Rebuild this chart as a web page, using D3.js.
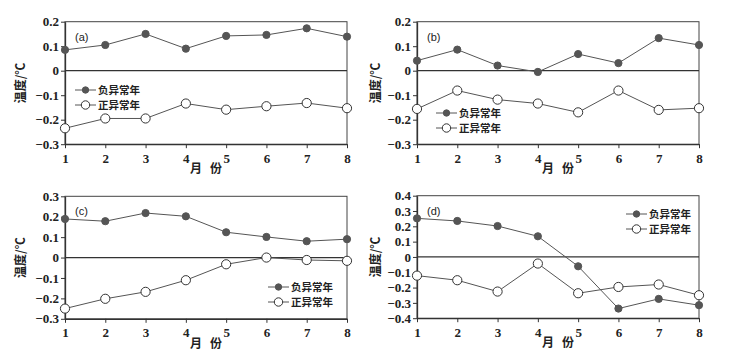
<!DOCTYPE html>
<html>
<head>
<meta charset="utf-8">
<script src="https://cdn.jsdelivr.net/npm/d3@7"></script>
<style>
  body { margin: 0; background: #fff; }
  .cjk { font-family: "Noto Sans CJK SC", sans-serif; font-weight: bold; fill: #222; }
  svg .tick text { font-family: "Liberation Serif", "DejaVu Serif", serif !important; font-weight: bold; font-size: 13px; fill: #222; }
</style>
</head>
<body>
<svg id="chart" width="752" height="358"></svg>
<script>
// months on the x axis
var months = [1, 2, 3, 4, 5, 6, 7, 8];

var seriesNames = ["负异常年", "正异常年"];

// (a)
var negA = [0.085, 0.105, 0.150, 0.090, 0.142, 0.146, 0.173, 0.139];
var posA = [-0.235, -0.195, -0.195, -0.134, -0.159, -0.145, -0.132, -0.153];
// (b)
var negB = [0.041, 0.086, 0.021, -0.005, 0.068, 0.031, 0.133, 0.105];
var posB = [-0.156, -0.081, -0.118, -0.134, -0.170, -0.081, -0.160, -0.153];
// (c)
var negC = [0.189, 0.178, 0.218, 0.202, 0.124, 0.101, 0.080, 0.090];
var posC = [-0.250, -0.202, -0.168, -0.111, -0.033, 0.000, -0.012, -0.016];
// (d)
var negD = [0.252, 0.235, 0.202, 0.135, -0.061, -0.337, -0.274, -0.315];
var posD = [-0.122, -0.152, -0.226, -0.043, -0.237, -0.196, -0.180, -0.250];

var ticksAB = [0.2, 0.1, 0, -0.1, -0.2, -0.3];
var ticksC = [0.3, 0.2, 0.1, 0, -0.1, -0.2, -0.3];
var ticksD = [0.4, 0.3, 0.2, 0.1, 0, -0.1, -0.2, -0.3, -0.4];

var panels = [
  { label: "(a)", neg: negA, pos: posA, ticks: ticksAB, x0: 65, y0: 21.7, ylab: -40, legend: [75, 90] },
  { label: "(b)", neg: negB, pos: posB, ticks: ticksAB, x0: 417, y0: 21.7, ylab: -37, legend: [436, 113] },
  { label: "(c)", neg: negC, pos: posC, ticks: ticksC, x0: 65, y0: 196.3, ylab: -40, legend: [268, 287] },
  { label: "(d)", neg: negD, pos: posD, ticks: ticksD, x0: 417, y0: 195.7, ylab: -37, legend: [626, 214] }
];

var pw = 282, ph = 122.5;
var lineColor = "#555";
var svg = d3.select("#chart");

function fmt(d) {
  if (d === 0) return "0";
  return (d < 0 ? "\u2212" : "") + Math.abs(d).toFixed(1);
}

panels.forEach(function (p) {
  var g = svg.append("g").attr("transform", "translate(" + p.x0 + "," + p.y0 + ")");

  var x = d3.scaleLinear().domain([1, 8]).range([0, pw]);
  var y = d3.scaleLinear().domain([d3.min(p.ticks), d3.max(p.ticks)]).range([ph, 0]);

  // frame
  g.append("rect")
    .attr("width", pw).attr("height", ph)
    .attr("fill", "none").attr("stroke", "#444").attr("stroke-width", 1);

  // zero line
  g.append("line")
    .attr("x1", 0).attr("x2", pw)
    .attr("y1", y(0)).attr("y2", y(0))
    .attr("stroke", "#333").attr("stroke-width", 1.2);

  g.append("g")
    .attr("transform", "translate(0," + ph + ")")
    .call(d3.axisBottom(x).tickValues(months).tickSize(4).tickSizeOuter(0).tickFormat(d3.format("d")))
    .call(function (a) {
      a.select(".domain").attr("stroke", "#333").attr("stroke-width", 1.3);
      a.selectAll(".tick line").attr("stroke", "#333");
      a.selectAll(".tick text").attr("dy", "0.9em");
    });

  g.append("g")
    .call(d3.axisLeft(y).tickValues(p.ticks).tickSize(4).tickSizeOuter(0).tickFormat(fmt))
    .call(function (a) {
      a.select(".domain").attr("stroke", "#333").attr("stroke-width", 1.3);
      a.selectAll(".tick line").attr("stroke", "#333");
      a.selectAll(".tick text").attr("x", -6);
    });

  // axis titles
  g.append("text").attr("class", "cjk")
    .attr("x", pw / 2).attr("y", ph + 29)
    .attr("text-anchor", "middle").attr("font-size", 12)
    .attr("xml:space", "preserve")
    .text("月   份");

  g.append("text").attr("class", "cjk")
    .attr("transform", "translate(" + p.ylab + "," + ph / 2 + ") rotate(-90)")
    .attr("text-anchor", "middle").attr("font-size", 12)
    .text("温度/℃");

  g.append("text")
    .attr("x", 10).attr("y", 19)
    .attr("font-family", "'Liberation Sans', Arial, sans-serif")
    .attr("font-size", 11).attr("fill", "#222")
    .text(p.label);

  var line = d3.line()
    .x(function (d, i) { return x(months[i]); })
    .y(function (d) { return y(d); });

  [p.neg, p.pos].forEach(function (vals, k) {
    g.append("path")
      .attr("d", line(vals))
      .attr("fill", "none").attr("stroke", lineColor).attr("stroke-width", 1);
    g.selectAll(".pt" + k)
      .data(vals)
      .enter().append("circle")
      .attr("class", "pt" + k)
      .attr("cx", function (d, i) { return x(months[i]); })
      .attr("cy", function (d) { return y(d); })
      .attr("r", k === 0 ? 3.6 : 4.6)
      .attr("fill", k === 0 ? "#555" : "#fff")
      .attr("stroke", k === 0 ? "#555" : "#333")
      .attr("stroke-width", 1);
  });

  // legend
  var lg = svg.append("g").attr("transform", "translate(" + p.legend[0] + "," + p.legend[1] + ")");
  seriesNames.forEach(function (name, k) {
    var row = lg.append("g").attr("transform", "translate(0," + (k * 15) + ")");
    row.append("line").attr("x1", 0).attr("x2", 21).attr("y1", 0).attr("y2", 0)
      .attr("stroke", lineColor).attr("stroke-width", 1);
    row.append("circle").attr("cx", 10.5).attr("cy", 0)
      .attr("r", k === 0 ? 3.2 : 4.2)
      .attr("fill", k === 0 ? "#555" : "#fff")
      .attr("stroke", k === 0 ? "#555" : "#333");
    row.append("text").attr("class", "cjk")
      .attr("x", 23).attr("y", 0).attr("dy", "0.36em")
      .attr("font-size", 10.5)
      .text(name);
  });
});
</script>
</body>
</html>
